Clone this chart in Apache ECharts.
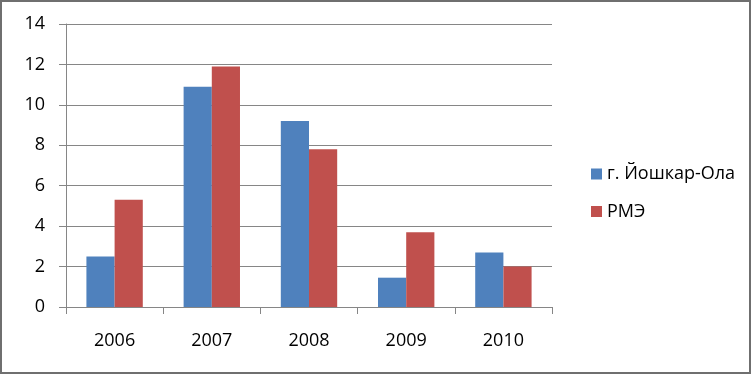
<!DOCTYPE html>
<html>
<head>
<meta charset="utf-8">
<script src="https://cdn.jsdelivr.net/npm/echarts@6/dist/echarts.min.js"></script>
<style>html,body{margin:0;padding:0;background:#fff}#c{width:752px;height:375px}</style>
</head>
<body>
<div id="c"></div>
<script>
const categories = ['2006', '2007', '2008', '2009', '2010'];
const seriesNames = ['г. Йошкар-Ола', 'РМЭ'];
const yoshkarOla = [2.5, 10.9, 9.2, 1.45, 2.7];
const rme = [5.3, 11.9, 7.8, 3.7, 2.0];

const chart = echarts.init(document.getElementById('c'), null, {renderer: 'canvas'});
const font = 'Open Sans';
chart.setOption({
  animation: false,
  backgroundColor: '#fff',
  graphic: [{
    type: 'rect', shape: {x: 1, y: 1, width: 749, height: 372},
    style: {fill: 'none', stroke: '#6f6f6f', lineWidth: 2}, silent: true, z: 100
  }],
  grid: {left: 66, right: 200, top: 24, bottom: 68},
  legend: {
    orient: 'vertical', left: 586, top: 160,
    itemWidth: 11, itemHeight: 11, itemGap: 19.5,
    icon: 'rect',
    textStyle: {fontFamily: font, fontSize: 18, color: '#000'},
    data: seriesNames
  },
  xAxis: {
    type: 'category', data: categories,
    axisLine: {lineStyle: {color: '#868686', width: 1}},
    axisTick: {show: true, length: 7, lineStyle: {color: '#868686'}},
    axisLabel: {fontFamily: font, fontSize: 18, color: '#000', margin: 25}
  },
  yAxis: {
    type: 'value', min: 0, max: 14, interval: 2,
    axisLine: {show: true, lineStyle: {color: '#868686', width: 1}},
    axisTick: {show: true, length: 7, lineStyle: {color: '#868686'}},
    splitLine: {lineStyle: {color: '#868686', width: 1}},
    axisLabel: {fontFamily: font, fontSize: 18, color: '#000', margin: 21}
  },
  series: [
    {name: seriesNames[0], type: 'bar', data: yoshkarOla, itemStyle: {color: '#4F81BD'}, barGap: '0%', barCategoryGap: '42%'},
    {name: seriesNames[1], type: 'bar', data: rme, itemStyle: {color: '#C0504D'}, barGap: '0%', barCategoryGap: '42%'}
  ]
});
</script>
</body>
</html>
